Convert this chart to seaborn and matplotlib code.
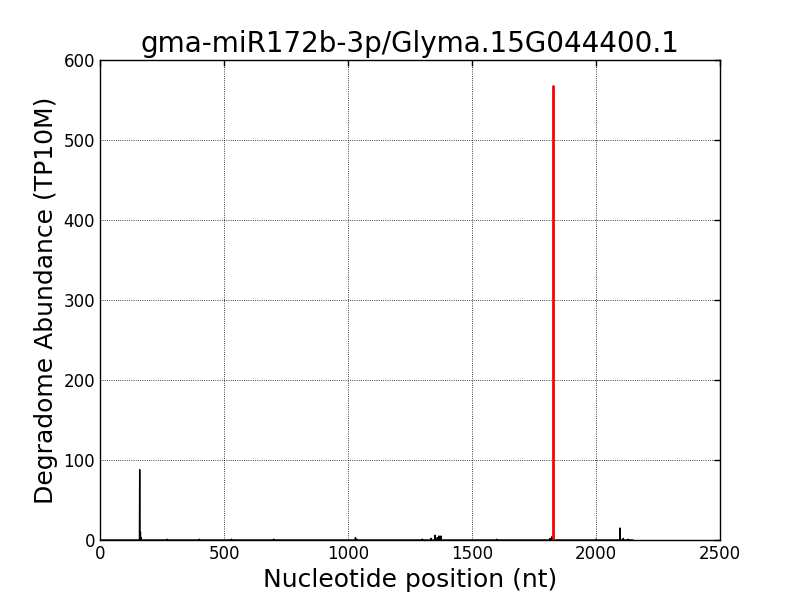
import numpy as np
import pandas as pd
import matplotlib
matplotlib.use("Agg")
import matplotlib.pyplot as plt
import seaborn as sns

# degradome reads, nonzero positions only (everything else is 0)
transcript_length = 2150
peak_positions = [160, 163, 165, 270, 400, 530, 700, 1030, 1035, 1300, 1335, 1351, 1360, 1367, 1375, 1600, 1815, 1822, 2000, 2097, 2110, 2130]
peak_values    = [88, 10, 3, 1, 1, 1, 1, 3, 1, 1, 2, 6, 3, 5, 5, 1, 2, 4, 1, 15, 2, 1]

# cleavage site of the miRNA
cleavage_pos = 1827
cleavage_val = 567

title = "gma-miR172b-3p/Glyma.15G044400.1"


def build_profile():
    abundance = np.zeros(transcript_length)
    abundance[peak_positions] = peak_values
    return pd.DataFrame({'position': np.arange(transcript_length), 'abundance': abundance})


def main():
    sns.set_style("white")
    plt.rcParams['font.family'] = ['DejaVu Sans']
    plt.rcParams['xtick.direction'] = 'in'
    plt.rcParams['ytick.direction'] = 'in'
    plt.rcParams['text.color'] = 'black'
    plt.rcParams['axes.labelcolor'] = 'black'
    plt.rcParams['xtick.color'] = 'black'
    plt.rcParams['ytick.color'] = 'black'

    df = build_profile()
    cut = pd.DataFrame({'position': [cleavage_pos, cleavage_pos], 'abundance': [0, cleavage_val]})

    fig, ax = plt.subplots(figsize=(8, 6), dpi=100)
    fig.subplots_adjust(left=0.125, right=0.9, bottom=0.1, top=0.9)

    sns.lineplot(data=df, x='position', y='abundance', color='black', linewidth=1,
                 estimator=None, sort=False, ax=ax)
    sns.lineplot(data=cut, x='position', y='abundance', color='red', linewidth=2,
                 estimator=None, sort=False, ax=ax)

    ax.set_xlim(0, 2500)
    ax.set_ylim(0, 600)
    ax.set_xticks([0, 500, 1000, 1500, 2000, 2500])
    ax.set_yticks([0, 100, 200, 300, 400, 500, 600])
    ax.tick_params(labelsize=12, top=True, right=True, length=4, width=1, color='black')
    ax.grid(True, linestyle=':', color='black', linewidth=0.6)
    for s in ax.spines.values():
        s.set_color('black')
        s.set_linewidth(1)

    ax.set_title(title, fontsize=20)
    ax.set_xlabel("Nucleotide position (nt)", fontsize=18)
    ax.set_ylabel("Degradome Abundance (TP10M)", fontsize=18)

    fig.savefig("out.png", dpi=100)


if __name__ == "__main__":
    main()
